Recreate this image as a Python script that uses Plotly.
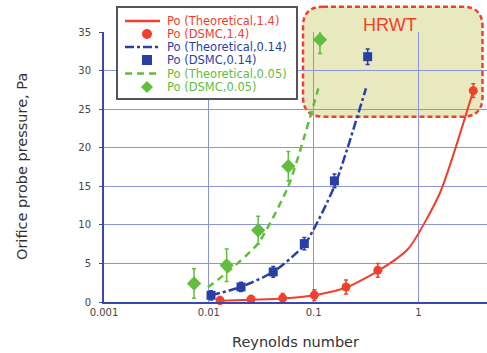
import plotly.graph_objects as go

# ---- data -------------------------------------------------------------
# Theoretical orifice pressure curves (Reynolds number, Pa)
re_theo_14 = [0.0128, 0.0253, 0.0507, 0.1016, 0.204, 0.41, 0.80, 1.6, 3.34]
po_theo_14 = [0.15, 0.3, 0.45, 0.87, 1.85, 4.0, 6.9, 14.1, 27.4]

re_theo_014 = [0.0105, 0.0203, 0.0412, 0.0815, 0.158, 0.316]
po_theo_014 = [0.87, 1.95, 3.9, 7.4, 15.0, 27.7]

re_theo_005 = [0.0098, 0.0148, 0.0296, 0.0574, 0.0798, 0.111]
po_theo_005 = [1.9, 3.8, 7.6, 15.0, 21.0, 27.7]

# DSMC results with scatter bars
re_dsmc_14 = [0.0128, 0.0253, 0.0507, 0.1016, 0.204, 0.41, 3.34]
po_dsmc_14 = [0.2, 0.35, 0.5, 0.9, 1.95, 4.1, 27.4]
err_dsmc_14 = [0.5, 0.5, 0.6, 0.7, 0.9, 0.9, 0.9]

re_dsmc_014 = [0.0105, 0.0203, 0.0412, 0.0815, 0.158, 0.328]
po_dsmc_014 = [0.87, 1.95, 3.9, 7.57, 15.7, 31.8]
err_dsmc_014 = [0.6, 0.6, 0.7, 0.8, 0.9, 1.0]

re_dsmc_005 = [0.00723, 0.0148, 0.0296, 0.0574, 0.115]
po_dsmc_005 = [2.4, 4.76, 9.3, 17.6, 34.0]
err_dsmc_005 = [1.9, 2.1, 1.8, 1.9, 1.8]

legend_labels = [
    "Po (Theoretical,1.4)", "Po (DSMC,1.4)",
    "Po (Theoretical,0.14)", "Po (DSMC,0.14)",
    "Po (Theoretical,0.05)", "Po (DSMC,0.05)",
]

# ---- styling ----------------------------------------------------------
RED = "#f0402c"
BLUE = "#2a3fa6"
GREEN = "#62bd3c"
AXIS = "#3848b0"
GRID = "#8c95d8"
FONT = "DejaVu Sans"

W, H = 487, 353
L, R, T, B = 104, 0, 32, 51
PW, PH = W - L - R, H - T - B


def px(x):
    return (x - L) / PW


def py(y):
    return (H - B - y) / PH


fig = go.Figure()

fig.add_trace(go.Scatter(x=re_theo_14, y=po_theo_14, mode="lines",
                         line=dict(color=RED, width=2, shape="spline", smoothing=0.6),
                         name=legend_labels[0]))
fig.add_trace(go.Scatter(x=re_theo_014, y=po_theo_014, mode="lines",
                         line=dict(color=BLUE, width=2.5, dash="9px,3px,3px,3px",
                                   shape="spline", smoothing=0.6),
                         name=legend_labels[2]))
fig.add_trace(go.Scatter(x=re_theo_005, y=po_theo_005, mode="lines",
                         line=dict(color=GREEN, width=2.5, dash="7px,5px",
                                   shape="spline", smoothing=0.6),
                         name=legend_labels[4]))

fig.add_trace(go.Scatter(x=re_dsmc_14, y=po_dsmc_14, mode="markers",
                         marker=dict(symbol="circle", size=9, color=RED),
                         error_y=dict(type="data", array=err_dsmc_14, color=RED,
                                      thickness=1.5, width=2),
                         cliponaxis=False, name=legend_labels[1]))
fig.add_trace(go.Scatter(x=re_dsmc_014, y=po_dsmc_014, mode="markers",
                         marker=dict(symbol="square", size=9, color=BLUE),
                         error_y=dict(type="data", array=err_dsmc_014, color=BLUE,
                                      thickness=1.5, width=2),
                         cliponaxis=False, name=legend_labels[3]))
fig.add_trace(go.Scatter(x=re_dsmc_005, y=po_dsmc_005, mode="markers",
                         marker=dict(symbol="diamond", size=11, color=GREEN),
                         error_y=dict(type="data", array=err_dsmc_005, color=GREEN,
                                      thickness=1.5, width=2),
                         cliponaxis=False, name=legend_labels[5]))

shapes = []

# HRWT operating region: rounded, dashed, translucent box
x0, x1 = px(303), px(482.5)
y0, y1 = py(116.7), py(6.7)
rx, ry = 20 / PW, 20 / PH
path = (f"M {x0+rx},{y1} L {x1-rx},{y1} Q {x1},{y1} {x1},{y1-ry} "
        f"L {x1},{y0+ry} Q {x1},{y0} {x1-rx},{y0} "
        f"L {x0+rx},{y0} Q {x0},{y0} {x0},{y0+ry} "
        f"L {x0},{y1-ry} Q {x0},{y1} {x0+rx},{y1} Z")
shapes.append(dict(type="path", xref="paper", yref="paper", path=path,
                   fillcolor="rgba(200,200,95,0.4)",
                   line=dict(color=RED, width=2.5, dash="5px,3px"),
                   layer="between"))

# Legend frame
shapes.append(dict(type="rect", xref="paper", yref="paper",
                   x0=px(117), x1=px(297), y0=py(99), y1=py(7),
                   fillcolor="white", line=dict(color="#555555", width=2),
                   layer="above"))

rows = [21, 34, 47, 60, 73.5, 87]
gx0, gx1 = px(125), px(160)

shapes.append(dict(type="line", xref="paper", yref="paper", x0=gx0, x1=gx1,
                   y0=py(rows[0]), y1=py(rows[0]),
                   line=dict(color=RED, width=2.5), layer="above"))
shapes.append(dict(type="circle", xref="paper", yref="paper",
                   x0=px(142), x1=px(152), y0=py(rows[1] + 5), y1=py(rows[1] - 5),
                   fillcolor=RED, line=dict(color=RED, width=0), layer="above"))
shapes.append(dict(type="line", xref="paper", yref="paper", x0=gx0, x1=gx1,
                   y0=py(rows[2]), y1=py(rows[2]),
                   line=dict(color=BLUE, width=2.5, dash="9px,3px,3px,3px"), layer="above"))
shapes.append(dict(type="rect", xref="paper", yref="paper",
                   x0=px(142), x1=px(152), y0=py(rows[3] + 5), y1=py(rows[3] - 5),
                   fillcolor=BLUE, line=dict(color=BLUE, width=0), layer="above"))
shapes.append(dict(type="line", xref="paper", yref="paper", x0=gx0, x1=gx1,
                   y0=py(rows[4]), y1=py(rows[4]),
                   line=dict(color=GREEN, width=2.5, dash="7px,5px"), layer="above"))
dy = 6
shapes.append(dict(type="path", xref="paper", yref="paper",
                   path=(f"M {px(147)},{py(rows[5]-dy)} L {px(147+dy)},{py(rows[5])} "
                         f"L {px(147)},{py(rows[5]+dy)} L {px(147-dy)},{py(rows[5])} Z"),
                   fillcolor=GREEN, line=dict(color=GREEN, width=0), layer="above"))

label_colors = [RED, RED, BLUE, BLUE, GREEN, GREEN]
annotations = []
for lab, col, ry_ in zip(legend_labels, label_colors, rows):
    annotations.append(dict(text=lab, xref="paper", yref="paper", x=px(165), y=py(ry_),
                            xanchor="left", yanchor="middle", showarrow=False,
                            font=dict(family=FONT, size=11.5, color=col)))

annotations.append(dict(text="HRWT", xref="paper", yref="paper", x=px(390), y=py(25),
                        xanchor="center", yanchor="middle", showarrow=False,
                        font=dict(family="Liberation Sans", size=18, color=RED)))
annotations.append(dict(text="Reynolds number", xref="paper", yref="paper",
                        x=px(295), y=py(342), xanchor="center", yanchor="middle",
                        showarrow=False, font=dict(family=FONT, size=14.5, color="#333333")))
annotations.append(dict(text="Orifice probe pressure, Pa", xref="paper", yref="paper",
                        x=px(22), y=py(167), xanchor="center", yanchor="middle",
                        textangle=-90, showarrow=False,
                        font=dict(family=FONT, size=14.5, color="#333333")))

fig.update_layout(
    width=W, height=H,
    margin=dict(l=L, r=R, t=T, b=B),
    paper_bgcolor="white", plot_bgcolor="white",
    showlegend=False,
    shapes=shapes,
    annotations=annotations,
    font=dict(family=FONT, color="#444444"),
)
fig.update_xaxes(type="log", range=[-3, -3 + PW / 104.8],
                 tickvals=[0.001, 0.01, 0.1, 1], ticktext=["0.001", "0.01", "0.1", "1"],
                 showgrid=True, gridcolor=GRID, gridwidth=1,
                 showline=True, linecolor=AXIS, linewidth=2,
                 ticks="", tickfont=dict(size=10, color="#444444"),
                 zeroline=False)
fig.update_yaxes(range=[0, 35], dtick=5,
                 showgrid=True, gridcolor=GRID, gridwidth=1,
                 showline=True, linecolor=AXIS, linewidth=2,
                 ticks="outside", ticklen=3, tickcolor=AXIS,
                 ticklabelstandoff=6,
                 tickfont=dict(size=10, color="#444444"),
                 zeroline=False)

fig.write_html("out.html")
